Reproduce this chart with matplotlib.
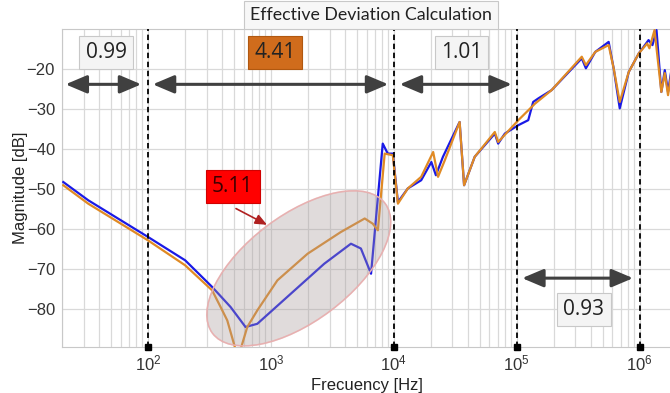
import matplotlib
matplotlib.use('Agg')
import matplotlib.pyplot as plt
import matplotlib.transforms as transforms
from matplotlib.patches import Ellipse
from matplotlib.ticker import LogLocator, NullFormatter

# curva azul (medida) - frecuencia [Hz], magnitud [dB]
f_blue = [20.5, 32.7, 100, 201, 243, 333, 470, 622, 776, 1452, 2718, 4480, 5400,
          6530, 7180, 8130, 8930, 9820, 10800, 13000, 16700, 20200, 22000, 25100,
          34300, 37300, 45500, 66300, 70600, 80000, 103000, 124000, 136000, 150000,
          192000, 338000, 365000, 435000, 559000, 614000, 688000, 815000, 982000,
          1.18e6, 1.27e6, 1.37e6, 1.5e6, 1.6e6, 1.7e6, 1.82e6]
m_blue = [-48.2, -52.75, -61.9, -67.75, -70.25, -74.4, -79.4, -84.4, -83.6, -76.1,
          -68.6, -63.6, -64.8, -71.1, -56.9, -38.6, -41.1, -41.1, -53.2, -49.8,
          -47.75, -43.2, -46.5, -41.9, -33.2, -49.0, -41.9, -36.1, -38.6, -36.1,
          -34.0, -32.75, -28.2, -27.3, -25.25, -17.3, -19.8, -15.7, -13.2, -19.8,
          -29.8, -20.7, -16.1, -12.75, -14.0, -10.25, -25.7, -20.25, -25.7, -19.8]

# curva naranja (modelo)
f_orange = [20.5, 32.7, 100, 201, 333, 390, 442, 516, 567, 643, 776, 1130, 1990,
            3700, 5800, 6740, 7420, 8430, 9820, 10800, 13000, 16700, 20900, 22900,
            26000, 34300, 37300, 45500, 66300, 70600, 103000, 141000, 192000, 338000,
            365000, 435000, 559000, 614000, 688000, 815000, 982000, 1.15e6, 1.2e6,
            1.32e6, 1.5e6, 1.6e6, 1.7e6, 1.82e6]
m_orange = [-49.0, -53.6, -62.75, -69.0, -75.25, -79.4, -82.75, -90.0, -90.0, -84.4,
            -80.25, -72.75, -66.1, -60.7, -57.3, -58.6, -60.25, -41.1, -41.5, -53.6,
            -49.8, -46.9, -40.7, -46.9, -42.75, -33.2, -49.0, -41.9, -35.7, -38.2,
            -32.75, -28.6, -25.25, -16.9, -19.0, -15.7, -14.0, -19.8, -28.2, -20.7,
            -16.1, -13.6, -14.8, -10.25, -25.7, -21.0, -26.5, -20.7]

# limites de las bandas y desviaciones
bounds = [1e2, 1e4, 1e5, 1e6]
dev_labels = ['0.99', '4.41', '1.01', '0.93']

fig = plt.figure(figsize=(6.7, 3.93), dpi=100)
ax = fig.add_axes([0.0925, 0.117, 0.91, 0.809])

ax.plot(f_blue, m_blue, color='#1a1ae6', lw=1.6, zorder=3)
ax.plot(f_orange, m_orange, color='#e08a24', lw=1.6, zorder=3)

ax.set_xscale('log')
ax.set_xlim(20, 1.82e6)
ax.set_ylim(-89.4, -10)
ax.set_yticks([-80, -70, -60, -50, -40, -30, -20])
ax.xaxis.set_major_locator(LogLocator(base=10))
ax.xaxis.set_minor_locator(LogLocator(base=10, subs=range(2, 10)))
ax.xaxis.set_minor_formatter(NullFormatter())
ax.grid(True, which='both', axis='x', color='#d9d9d9', lw=0.9)
ax.grid(True, which='major', axis='y', color='#d9d9d9', lw=0.9)
ax.tick_params(which='both', length=0, labelsize=12, labelcolor='#333333', pad=5)
for tl in ax.get_xticklabels() + ax.get_yticklabels():
    tl.set_family('Liberation Sans')
for s in ax.spines.values():
    s.set_color('#c8c8c8')

ax.set_xlabel('Frecuency [Hz]', fontsize=12, family='Liberation Sans', color='#222222', labelpad=3)
ax.set_ylabel('Magnitude [dB]', fontsize=12, family='Liberation Sans', color='#222222', labelpad=-1)

# lineas divisorias
ymin = ax.get_ylim()[0]
for b in bounds:
    ax.axvline(b, color='black', ls=(0, (3, 2)), lw=1.3, zorder=4)
ax.plot(bounds, [ymin] * len(bounds), 's', color='black', ms=4, clip_on=False, zorder=5)

# flechas de las bandas
arr = dict(arrowstyle='<|-|>,head_length=1.3,head_width=0.55', color='#404040', lw=2.2)
ax.annotate('', xy=(20.3, -23.8), xytext=(93, -23.8), arrowprops=arr)
ax.annotate('', xy=(104, -23.8), xytext=(9500, -23.8), arrowprops=arr)
ax.annotate('', xy=(10600, -23.8), xytext=(96000, -23.8), arrowprops=arr)
ax.annotate('', xy=(105000, -72.2), xytext=(930000, -72.2), arrowprops=arr)

box_gray = dict(boxstyle='square,pad=0.3', fc='#f4f4f4', ec='#c8c8c8', lw=0.8)
box_orange = dict(boxstyle='square,pad=0.3', fc='#d06c1c', ec='#b05810', lw=0.8)
lbl = dict(fontsize=15, family='Open Sans', ha='center', va='center', color='#222222', zorder=6)
ax.text(45.7, -15.9, dev_labels[0], bbox=box_gray, **lbl)
ax.text(1077, -15.9, dev_labels[1], bbox=box_orange, **lbl)
ax.text(35600, -15.9, dev_labels[2], bbox=box_gray, **lbl)
ax.text(351000, -80.0, dev_labels[3], bbox=box_gray, **lbl)

# zona resaltada
trans = fig.dpi_scale_trans + transforms.ScaledTranslation(1687, -69.75, ax.transData)
ell = Ellipse((0, 0), 2.16, 1.06, angle=37, transform=trans, fc='#a89a9a',
              ec='#e09a9a', alpha=0.35, lw=1.2, zorder=4)
ax.add_patch(ell)
ell_edge = Ellipse((0, 0), 2.16, 1.06, angle=37, transform=trans, fc='none',
                   ec='#e8b0b0', lw=1.0, zorder=4)
ax.add_patch(ell_edge)

ax.text(490, -49.3, '5.11', fontsize=15, family='Open Sans', ha='center', va='center',
        color='#3a0000', zorder=6,
        bbox=dict(boxstyle='square,pad=0.3', fc='#ff0000', ec='#d00000', lw=0.8))
ax.annotate('', xy=(975, -59.2), xytext=(497, -54.5),
            arrowprops=dict(arrowstyle='-|>,head_length=0.7,head_width=0.3',
                            color='#b02020', lw=1.2), zorder=6)

fig.text(371 / 670, 1 - 15 / 393, 'Effective Deviation Calculation', fontsize=12.8,
         family='Lato', ha='center', va='center', color='#222222',
         bbox=dict(boxstyle='square,pad=0.35', fc='#f7f7f7', ec='#c8c8c8', lw=0.8))

fig.savefig('out.png', dpi=100)
